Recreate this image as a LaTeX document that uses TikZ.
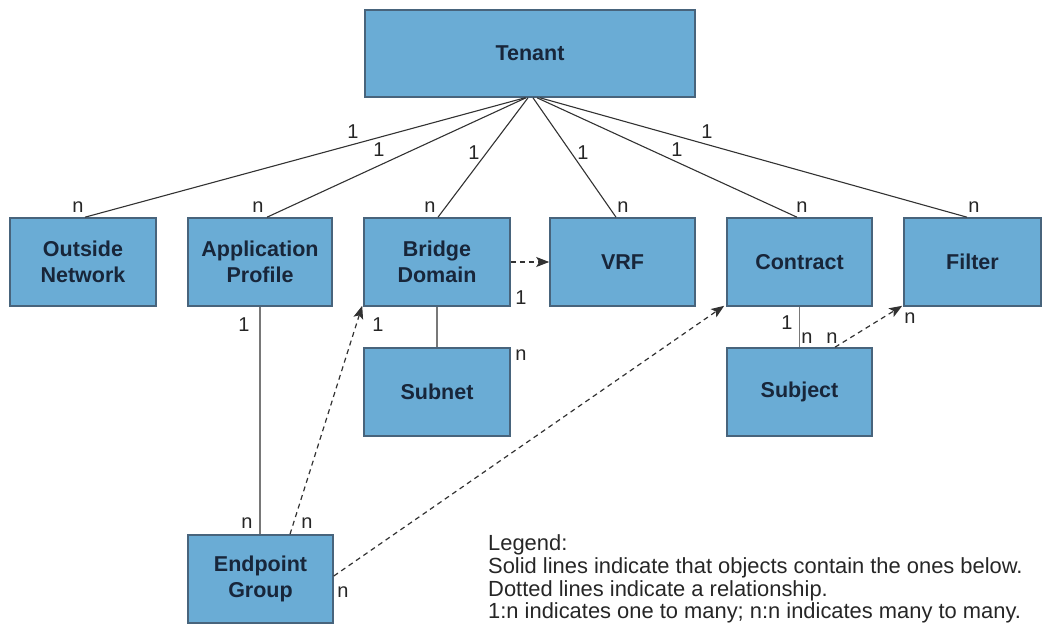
\documentclass[tikz,border=0pt]{standalone}
\usepackage{fontspec}
\setmainfont{Liberation Sans}
\usetikzlibrary{arrows.meta}
\definecolor{boxfill}{RGB}{106,172,213}
\definecolor{boxdraw}{RGB}{72,100,124}
\definecolor{boxtext}{RGB}{24,38,58}
\definecolor{linedark}{RGB}{50,50,50}
\definecolor{linegrey}{RGB}{120,120,120}
\begin{document}
\begin{tikzpicture}[x=1pt,y=-1pt,
  objbox/.style={draw=boxdraw,line width=1.6pt,fill=boxfill,inner sep=0pt,
    align=center,text=boxtext,font=\fontsize{21.5}{26}\selectfont\bfseries,
    minimum height=88pt},
  topline/.style={draw=linedark,line width=1.1pt},
  vline/.style={draw=linegrey,line width=1.5pt},
  relline/.style={draw=linedark,line width=1.2pt,dash pattern=on 5pt off 4pt,
    -{Stealth[length=13pt,width=10pt,inset=3pt]}},
  card/.style={inner sep=0pt,text=black!85,font=\fontsize{20}{20}\selectfont},
  legendtext/.style={inner sep=0pt,anchor=base west,text=black!85,
    font=\fontsize{21.9}{23}\selectfont}]
\useasboundingbox (0,0) rectangle (1044,628);

% boxes
\node[objbox,minimum width=330pt,minimum height=87pt] (tenant) at (530,53.5) {Tenant};
\node[objbox,minimum width=146pt] (outside) at (83,262) {Outside\\Network};
\node[objbox,minimum width=144pt] (app) at (260,262) {Application\\Profile};
\node[objbox,minimum width=146pt] (bd) at (437,262) {Bridge\\Domain};
\node[objbox,minimum width=145pt] (vrf) at (622.5,262) {VRF};
\node[objbox,minimum width=145pt] (contract) at (799.5,262) {Contract};
\node[objbox,minimum width=137pt] (filter) at (972.5,262) {Filter};
\node[objbox,minimum width=146pt] (subnet) at (437,392) {Subnet};
\node[objbox,minimum width=145pt] (subject) at (799.5,392) {Subject};
\node[objbox,minimum width=145pt] (epg) at (260.5,579) {Endpoint\\Group};

% containment lines from tenant
\draw[topline] ([xshift=-5pt]tenant.south) -- ([xshift=2pt]outside.north);
\draw[topline] ([xshift=-4pt]tenant.south) -- ([xshift=7pt]app.north);
\draw[topline] ([xshift=-2pt]tenant.south) -- ([xshift=1pt]bd.north);
\draw[topline] ([xshift=3pt]tenant.south) -- ([xshift=-6.5pt]vrf.north);
\draw[topline] ([xshift=7pt]tenant.south) -- ([xshift=-2.5pt]contract.north);
\draw[topline] ([xshift=10pt]tenant.south) -- ([xshift=-5.5pt]filter.north);

% other containment lines
\draw[vline] (app.south) -- (app.south |- epg.north);
\draw[vline] (bd.south) -- (subnet.north);
\draw[vline] (contract.south) -- (subject.north);

% relationships
\draw[relline] (bd.east) -- (vrf.west);
\draw[relline] ([xshift=29.5pt]epg.north) -- ([shift={(-1pt,1pt)}]bd.south west);
\draw[relline] ([yshift=3pt]epg.east) -- ([shift={(-2pt,1pt)}]contract.south west);
\draw[relline] ([xshift=35.5pt]subject.north) -- ([shift={(-1pt,1pt)}]filter.south west);

% cardinality labels
\node[card] (c1) at (353,132) {1};
\node[card] (c2) at (379,150) {1};
\node[card] (c3) at (474,153) {1};
\node[card] (c4) at (583,153) {1};
\node[card] (c5) at (677,150) {1};
\node[card] (c6) at (707,132) {1};
\node[card] (n1) at (78,207) {n};
\node[card] (n2) at (258,207) {n};
\node[card] (n3) at (430,207) {n};
\node[card] (n4) at (623,207) {n};
\node[card] (n5) at (802,207) {n};
\node[card] (n6) at (974,207) {n};
\node[card] (a1) at (244,325) {1};
\node[card] (b1) at (378,325) {1};
\node[card] (b2) at (521,298) {1};
\node[card] (s1) at (521,355) {n};
\node[card] (k1) at (787,323) {1};
\node[card] (k2) at (807,338) {n};
\node[card] (k3) at (832,338) {n};
\node[card] (f1) at (910,318) {n};
\node[card] (e1) at (247,523) {n};
\node[card] (e2) at (307,523) {n};
\node[card] (e3) at (343,592) {n};

% legend
\node[legendtext] (leg1) at (488,550) {Legend:};
\node[legendtext] (leg2) at (488,573) {Solid lines indicate that objects contain the ones below.};
\node[legendtext] (leg3) at (488,596) {Dotted lines indicate a relationship.};
\node[legendtext] (leg4) at (488,618) {1:n indicates one to many; n:n indicates many to many.};
\end{tikzpicture}
\end{document}
